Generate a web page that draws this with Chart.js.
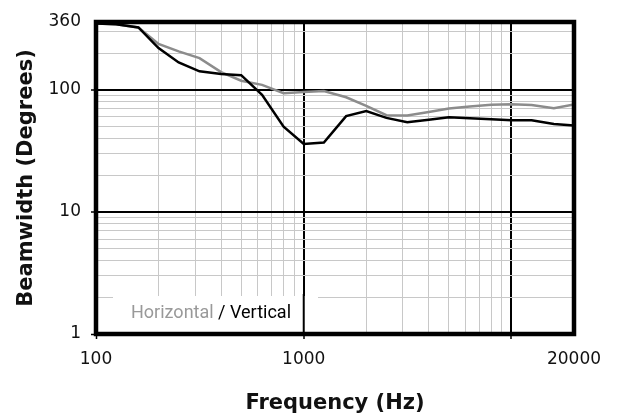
<!DOCTYPE html>
<html lang="en">
<head>
<meta charset="UTF-8">
<title>Beamwidth</title>
<script src="https://cdn.jsdelivr.net/npm/chart.js"></script>
<style>
  body { margin: 0; background: #fff; }
</style>
</head>
<body>
<canvas id="beamChart" width="622" height="419"></canvas>
<script>
// 1/3 octave bands
const freqs = [100, 125, 160, 200, 250, 315, 400, 500, 630, 800, 1000, 1250,
               1600, 2000, 2500, 3150, 4000, 5000, 6300, 8000, 10000, 12500, 16000, 20000];
const horizontal = [350, 345, 325, 238, 207, 182, 140, 119, 110, 94, 96, 98,
                    87, 74, 62, 61.6, 66, 70.4, 73, 75.5, 76.4, 75.3, 70.8, 75.8];
const vertical = [350, 345, 325, 220, 168, 142, 135, 132, 91, 50, 36, 37,
                  61, 67, 59, 54.3, 57, 59.7, 58.5, 57.5, 56.3, 56.3, 52.6, 51];

const xTicks = [100, 200, 300, 400, 500, 600, 700, 800, 900, 1000, 2000, 3000, 4000,
                5000, 6000, 7000, 8000, 9000, 10000, 20000];
const xLabels = [100, 1000, 20000];
const xMajor = [1000, 10000];
const yTicks = [1, 2, 3, 4, 5, 6, 7, 8, 9, 10, 20, 30, 40, 50, 60, 70, 80, 90, 100, 200, 300, 360];
const yLabels = [1, 10, 100, 360];
const yMajor = [10, 100];

const tickFont = { family: 'DejaVu Sans', size: 17 };
const titleFont = { family: 'DejaVu Sans', size: 21, weight: 'bold' };

function gridColor(major, edges) {
    return function (c) {
        const v = c.tick && c.tick.value;
        if (edges.includes(v)) return 'rgba(0,0,0,0)';
        return major.includes(v) ? '#000' : '#c8c8c8';
    };
}

// white legend box + plot frame
const framePlugin = {
    id: 'frame',
    beforeDatasetsDraw(chart) {
        const { ctx, chartArea: a, scales } = chart;
        ctx.save();
        ctx.fillStyle = '#fff';
        ctx.fillRect(a.left + 17, a.bottom - 38, 205, 36);
        // major line at 1000 stays on top of the box
        const x1k = scales.x.getPixelForValue(1000);
        ctx.strokeStyle = '#000';
        ctx.lineWidth = 2;
        ctx.beginPath();
        ctx.moveTo(x1k, a.bottom - 40);
        ctx.lineTo(x1k, a.bottom);
        ctx.stroke();
        ctx.font = '18px Roboto';
        ctx.textBaseline = 'middle';
        const tx = a.left + 35, ty = a.bottom - 21;
        ctx.fillStyle = '#999';
        ctx.fillText('Horizontal', tx, ty);
        const w = ctx.measureText('Horizontal ').width;
        ctx.fillStyle = '#000';
        ctx.fillText('/ Vertical', tx + w, ty);
        ctx.restore();
    },
    afterDatasetsDraw(chart) {
        const { ctx, chartArea: a } = chart;
        ctx.save();
        ctx.strokeStyle = '#000';
        ctx.lineWidth = 4.5;
        ctx.strokeRect(a.left, a.top, a.right - a.left, a.bottom - a.top);
        ctx.restore();
    }
};

const datasets = [
    {
        label: 'Vertical',
        data: vertical.map((v, i) => ({ x: freqs[i], y: v })),
        borderColor: '#000',
        borderWidth: 2.5,
        pointRadius: 0,
        tension: 0,
        order: 0
    },
    {
        label: 'Horizontal',
        data: horizontal.map((v, i) => ({ x: freqs[i], y: v })),
        borderColor: '#8c8c8c',
        borderWidth: 2.5,
        pointRadius: 0,
        tension: 0,
        order: 1
    }
];

const config = {
    type: 'line',
    data: { datasets: datasets },
    options: {
        responsive: false,
        animation: false,
        devicePixelRatio: 1,
        layout: { padding: { top: 22, right: 48, left: 0, bottom: 0 } },
        plugins: {
            legend: { display: false },
            tooltip: { enabled: false }
        },
        scales: {
            x: {
                type: 'logarithmic',
                min: 100,
                max: 20000,
                afterBuildTicks(scale) {
                    scale.ticks = xTicks.map(v => ({ value: v }));
                },
                afterFit(scale) { scale.height = 85; },
                border: { display: false },
                grid: {
                    color: gridColor(xMajor, [100, 20000]),
                    lineWidth: c => xMajor.includes(c.tick && c.tick.value) ? 2 : 1,
                    tickLength: 5,
                    tickColor: c => [100, 1000, 10000].includes(c.tick && c.tick.value) ? '#000' : 'rgba(0,0,0,0)',
                    tickWidth: 1.5
                },
                ticks: {
                    autoSkip: false,
                    maxRotation: 0,
                    padding: 10,
                    color: '#111',
                    font: tickFont,
                    callback: v => xLabels.includes(v) ? String(v) : ''
                },
                title: {
                    display: true,
                    text: 'Frequency (Hz)',
                    color: '#111',
                    font: titleFont,
                    padding: { top: 0, bottom: 3 }
                }
            },
            y: {
                type: 'logarithmic',
                min: 1,
                max: 360,
                afterBuildTicks(scale) {
                    scale.ticks = yTicks.map(v => ({ value: v }));
                },
                afterFit(scale) { scale.width = 96; },
                border: { display: false },
                grid: {
                    color: gridColor(yMajor, [1, 360]),
                    lineWidth: c => yMajor.includes(c.tick && c.tick.value) ? 2 : 1,
                    tickLength: 5,
                    tickColor: c => [1, 10, 100].includes(c.tick && c.tick.value) ? '#000' : 'rgba(0,0,0,0)',
                    tickWidth: 1.5
                },
                ticks: {
                    autoSkip: false,
                    padding: 10,
                    color: '#111',
                    font: tickFont,
                    callback: v => yLabels.includes(v) ? String(v) : ''
                },
                title: {
                    display: true,
                    text: 'Beamwidth (Degrees)',
                    color: '#111',
                    font: titleFont,
                    padding: { top: 14, bottom: 0 }
                }
            }
        }
    },
    plugins: [framePlugin]
};

const ctx = document.querySelector('#beamChart').getContext('2d');
const beamChart = new Chart(ctx, config);
</script>
</body>
</html>
